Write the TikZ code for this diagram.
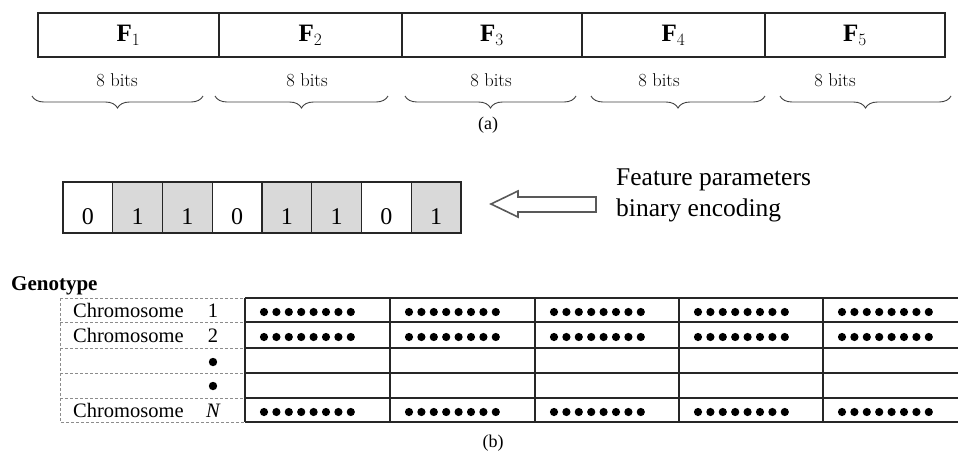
\documentclass[tikz,border=0pt]{standalone}
\usepackage{fontspec}
\setmainfont{Liberation Serif}
\newfontfamily\lmfont{Latin Modern Roman}
\usetikzlibrary{decorations.pathreplacing}
\tikzset{
  fbox/.style={draw=black!85, line width=1.2pt, minimum height=44pt, inner sep=0pt, font=\fontsize{25}{28}\selectfont},
  bitlbl/.style={font=\lmfont\fontsize{18.5}{22}\selectfont, inner sep=0pt},
  bracedeco/.style={draw=black!75, line width=0.9pt, decorate, decoration={brace, mirror, amplitude=12pt}},
  caplbl/.style={font=\fontsize{18}{21}\selectfont, inner sep=0pt},
  bitcell/.style={draw=black!85, line width=1.2pt, minimum width=49.75pt, minimum height=51pt, inner sep=0pt},
  bitone/.style={bitcell, fill=black!15},
  bitzero/.style={bitcell, fill=white},
  digit/.style={font=\fontsize{24}{26}\selectfont, inner sep=0pt},
  hollowarrow/.style={draw=black!65, line width=1.6pt, fill=white, line join=miter},
  feat/.style={font=\fontsize{25.5}{28}\selectfont, inner sep=0pt, anchor=base west},
  genolbl/.style={font=\bfseries\fontsize{21}{24}\selectfont, inner sep=0pt, anchor=base west},
  chromlbl/.style={font=\fontsize{20.5}{24}\selectfont, inner sep=0pt, anchor=base west},
  numlbl/.style={font=\fontsize{20.5}{24}\selectfont, inner sep=0pt, anchor=base},
  dashline/.style={draw=black!45, line width=0.8pt, dash pattern=on 3pt off 2pt},
  tabline/.style={draw=black!85, line width=1.2pt},
  bdot/.style={fill=black}
}
\begin{document}
\begin{tikzpicture}[x=1pt, y=-1pt]
\useasboundingbox (0,0) rectangle (958,456);
% (a) feature boxes
\foreach \i/\cx/\w in {1/128.5/181, 2/310.5/183, 3/492/180, 4/673.5/183, 5/855/180}
  \node[fbox, minimum width=\w pt] (F\i) at (\cx,35) {$\mathbf{F}_{\i}$};
% 8 bits labels
\foreach \i/\cx in {1/117, 2/307, 3/491, 4/659, 5/835}
  \node[bitlbl] (L\i) at (\cx,80) {8 bits};
% braces
\foreach \i/\xa/\xb in {1/32/203, 2/215/388, 3/405/576, 4/591/765, 5/780/951} {
  \coordinate (bs\i) at (\xa,96);
  \coordinate (be\i) at (\xb,96);
  \draw[bracedeco] (bs\i) -- (be\i);
}
\node[caplbl] (capa) at (488,125) {(a)};
% binary cells
\foreach \i/\d in {1/0, 2/1, 3/1, 4/0, 5/1, 6/1, 7/0, 8/1} {
  \ifnum\d=1
    \node[bitone] (c\i) at ({63+49.75*(\i-0.5)},207.5) {};
  \else
    \node[bitzero] (c\i) at ({63+49.75*(\i-0.5)},207.5) {};
  \fi
  \node[digit] (d\i) at ([yshift=-9pt]c\i.center) {\d};
}
% hollow arrow
\coordinate (arrtip) at (491,204);
\draw[hollowarrow] (arrtip) -- (518,191) -- (518,197) -- (596,197) -- (596,212) -- (518,212) -- (518,217) -- cycle;
\node[feat] (feat1) at (616,185) {Feature parameters};
\node[feat] (feat2) at (616,216) {binary encoding};
% (b) genotype
\node[genolbl] (geno) at (11,290) {Genotype};
\draw[dashline] (60,298) rectangle (245,422);
\foreach \y in {322,348,373,398}
  \draw[dashline] (60,\y) -- (245,\y);
\foreach \y in {298,322,348,373,398,422}
  \draw[tabline] (245,\y) -- (958,\y);
\foreach \x in {245,390,535,679,823}
  \draw[tabline] (\x,298) -- (\x,422);
\node[chromlbl] (ch1) at (73,317) {Chromosome};
\node[numlbl] (n1) at (213,317) {1};
\node[chromlbl] (ch2) at (73,342) {Chromosome};
\node[numlbl] (n2) at (213,342) {2};
\node[chromlbl] (chN) at (73,417) {Chromosome};
\node[numlbl] (nN) at (213,417) {\itshape N};
\fill[bdot] (213,362) circle (4.2pt);
\fill[bdot] (213,386) circle (4.2pt);
\foreach \cx in {245,390,535,679,823}
  \foreach \ry in {312,337,412}
    \foreach \k in {0,...,7}
      \fill[bdot] ({\cx+19+12.4*\k},\ry) circle (4.1pt);
\node[caplbl] (capb) at (493,443) {(b)};
\end{tikzpicture}
\end{document}
